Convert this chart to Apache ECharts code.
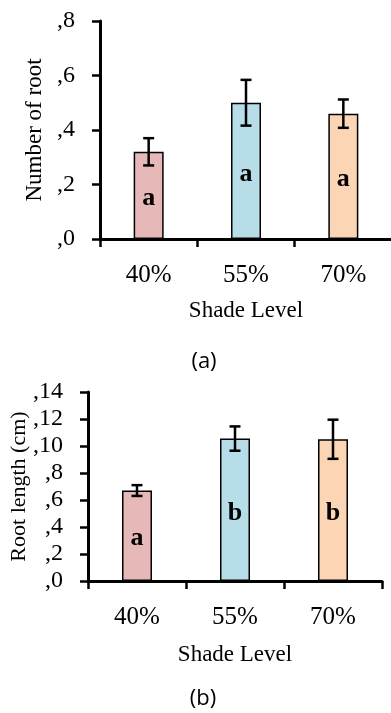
<!DOCTYPE html>
<html>
<head>
<meta charset="utf-8">
<script src="https://cdn.jsdelivr.net/npm/echarts@6/dist/echarts.min.js"></script>
<style>
html,body{margin:0;padding:0;background:#fff;}
#chart{width:391px;height:713px;}
</style>
</head>
<body>
<div id="chart"></div>
<script>
// ---- data ----
const categories = ['40%', '55%', '70%'];
const barColors = ['#E6B9B8', '#B7DEE8', '#FCD5B5'];

const rootNumber = [0.32, 0.50, 0.46];
const rootNumberErr = [0.05, 0.084, 0.052];
const rootNumberLetters = ['a', 'a', 'a'];
const rootNumberTicks = [',0', ',2', ',4', ',6', ',8'];

const rootLength = [6.7, 10.55, 10.5];
const rootLengthErr = [0.4, 0.9, 1.45];
const rootLengthLetters = ['a', 'b', 'b'];
const rootLengthTicks = [',0', ',2', ',4', ',6', ',8', ',10', ',12', ',14'];

// ---- build ----
const serif = "'Liberation Serif', 'Times New Roman', serif";
const sans = "'Open Sans', 'Liberation Sans', sans-serif";

function barData(vals) {
  return vals.map((v, i) => ({ value: v, itemStyle: { color: barColors[i] } }));
}
function errData(vals, errs) {
  return vals.map((v, i) => [i, v - errs[i], v + errs[i]]);
}
function errRender(params, api) {
  const x = api.value(0);
  const lo = api.coord([x, api.value(1)]);
  const hi = api.coord([x, api.value(2)]);
  const hw = 5.5;
  const style = { stroke: '#000', lineWidth: 2.5 };
  return {
    type: 'group',
    children: [
      { type: 'line', shape: { x1: lo[0], y1: lo[1], x2: hi[0], y2: hi[1] }, style },
      { type: 'line', shape: { x1: lo[0] - hw, y1: lo[1], x2: lo[0] + hw, y2: lo[1] }, style },
      { type: 'line', shape: { x1: hi[0] - hw, y1: hi[1], x2: hi[0] + hw, y2: hi[1] }, style }
    ]
  };
}
function xAxisCfg(gi, gap) {
  return {
    type: 'category', gridIndex: gi, data: categories,
    axisLine: { show: true, lineStyle: { color: '#000', width: 3 } },
    axisTick: { show: true, length: 8, alignWithLabel: false, lineStyle: { color: '#000', width: 2.5 } },
    axisLabel: { color: '#000', fontSize: 25, fontFamily: serif, margin: 24 },
    name: 'Shade Level', nameLocation: 'middle', nameGap: gap, nameMoveOverlap: false,
    nameTextStyle: { color: '#000', fontSize: 23, fontFamily: serif }
  };
}
function yAxisCfg(gi, max, interval, ticks, name, gap, nameSize) {
  return {
    type: 'value', gridIndex: gi, min: 0, max: max, interval: interval,
    splitLine: { show: false },
    axisLine: { show: true, lineStyle: { color: '#000', width: 3 } },
    axisTick: { show: true, length: 8, lineStyle: { color: '#000', width: 2.5 } },
    axisLabel: {
      color: '#000', fontSize: 24, fontFamily: serif, margin: 25,
      formatter: v => ticks[Math.round(v / interval)]
    },
    name: name, nameLocation: 'middle', nameGap: gap, nameMoveOverlap: false,
    nameTextStyle: { color: '#000', fontSize: nameSize, fontFamily: serif }
  };
}
function barSeries(gi, vals, letters) {
  return {
    type: 'bar', xAxisIndex: gi, yAxisIndex: gi, barWidth: 30,
    data: barData(vals),
    itemStyle: { borderColor: '#000', borderWidth: 1.5 },
    label: {
      show: true, position: 'inside', offset: [0, 3], color: '#000', fontWeight: 'bold',
      fontSize: 26, fontFamily: serif,
      formatter: p => letters[p.dataIndex]
    },
    z: 2
  };
}
function errSeries(gi, vals, errs) {
  return {
    type: 'custom', xAxisIndex: gi, yAxisIndex: gi,
    data: errData(vals, errs), renderItem: errRender,
    encode: { x: 0, y: [1, 2] }, z: 5, silent: true
  };
}

const chart = echarts.init(document.getElementById('chart'), null, { renderer: 'canvas' });
chart.setOption({
  animation: false,
  backgroundColor: '#fff',
  title: [
    { text: '(a)', left: 199, top: 346, textAlign: 'center',
      textStyle: { fontFamily: sans, fontSize: 22, fontWeight: 'normal', color: '#000' } },
    { text: '(b)', left: 198, top: 683, textAlign: 'center',
      textStyle: { fontFamily: sans, fontSize: 22, fontWeight: 'normal', color: '#000' } }
  ],
  grid: [
    { left: 100, top: 21, width: 292, height: 218, outerBoundsMode: 'none', containLabel: false },
    { left: 88, top: 392, width: 294, height: 189, outerBoundsMode: 'none', containLabel: false }
  ],
  xAxis: [xAxisCfg(0, 60), xAxisCfg(1, 62)],
  yAxis: [
    yAxisCfg(0, 0.8, 0.2, rootNumberTicks, 'Number of root', 54, 23),
    yAxisCfg(1, 14, 2, rootLengthTicks, 'Root length (cm)', 58, 22)
  ],
  series: [
    barSeries(0, rootNumber, rootNumberLetters),
    errSeries(0, rootNumber, rootNumberErr),
    barSeries(1, rootLength, rootLengthLetters),
    errSeries(1, rootLength, rootLengthErr)
  ]
});
</script>
</body>
</html>
